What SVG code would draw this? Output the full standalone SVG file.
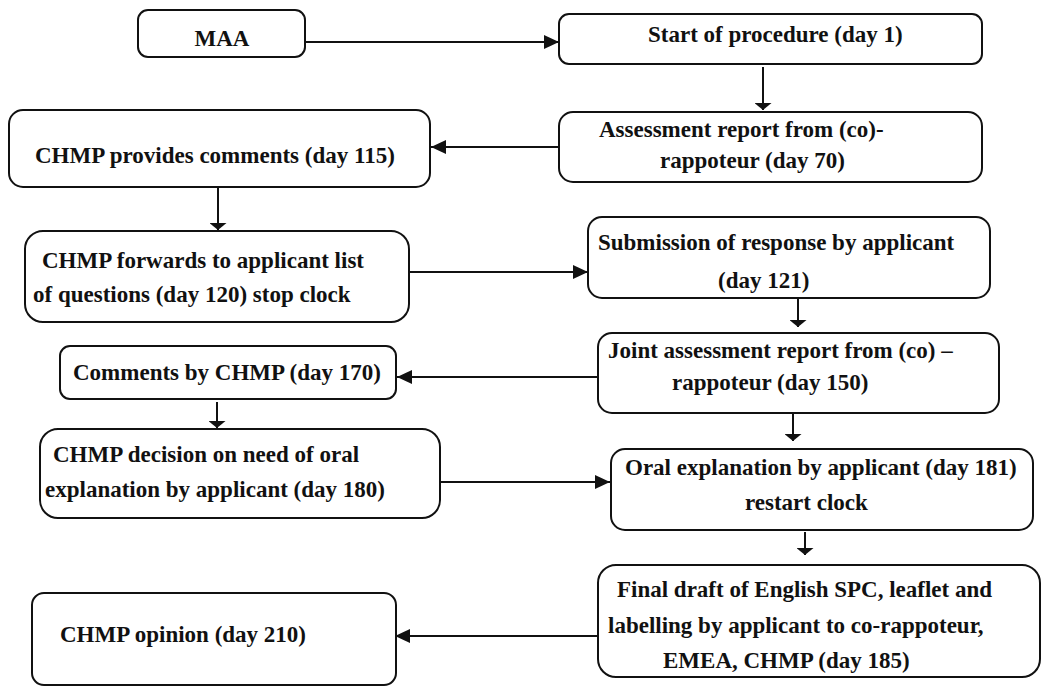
<svg xmlns="http://www.w3.org/2000/svg" width="1041" height="686" viewBox="0 0 1041 686">
<style>
.box{fill:#fff;stroke:#111;stroke-width:2}
.t{font-family:"Liberation Serif","Times New Roman",serif;font-weight:bold;font-size:23px;fill:#111}
.c{fill:none;stroke:#111;stroke-width:2}
</style>
<defs>
<marker id="ah" markerUnits="userSpaceOnUse" markerWidth="16" markerHeight="14" refX="15" refY="7" orient="auto">
<path d="M0,0 L15,7 L0,14 Z" fill="#111"/>
</marker>
<marker id="av" markerUnits="userSpaceOnUse" markerWidth="8" markerHeight="17" refX="7" refY="8.5" orient="auto">
<path d="M0,0 L7,8.5 L0,17 Z" fill="#111"/>
</marker>
</defs>
<rect width="1041" height="686" fill="#fff"/>
<g id="connectors">
<line class="c" x1="305" y1="42" x2="559" y2="42" marker-end="url(#ah)"/>
<line class="c" x1="763" y1="67" x2="763" y2="110" marker-end="url(#av)"/>
<line class="c" x1="559" y1="147" x2="431" y2="147" marker-end="url(#ah)"/>
<line class="c" x1="218" y1="188" x2="218" y2="230" marker-end="url(#av)"/>
<line class="c" x1="409" y1="272" x2="588" y2="272" marker-end="url(#ah)"/>
<line class="c" x1="798" y1="299" x2="798" y2="327" marker-end="url(#av)"/>
<line class="c" x1="598" y1="377" x2="397" y2="377" marker-end="url(#ah)"/>
<line class="c" x1="217" y1="402" x2="217" y2="428" marker-end="url(#av)"/>
<line class="c" x1="793" y1="414" x2="793" y2="441" marker-end="url(#av)"/>
<line class="c" x1="440" y1="482" x2="610" y2="482" marker-end="url(#ah)"/>
<line class="c" x1="805" y1="532" x2="805" y2="555" marker-end="url(#av)"/>
<line class="c" x1="598" y1="636" x2="395" y2="636" marker-end="url(#ah)"/>
</g>
<g id="maa">
<rect class="box" x="138" y="10" width="167" height="47" rx="10"/>
<text class="t" x="222" y="46" text-anchor="middle">MAA</text>
</g>
<g id="start">
<rect class="box" x="559" y="14" width="423" height="50" rx="10"/>
<text class="t" x="648" y="42">Start of procedure (day 1)</text>
</g>
<g id="assessment">
<rect class="box" x="559" y="112" width="423" height="70" rx="14"/>
<text class="t" x="599" y="137">Assessment report from (co)-</text>
<text class="t" x="660" y="168">rappoteur (day 70)</text>
</g>
<g id="chmp-comments">
<rect class="box" x="9" y="110" width="421" height="77" rx="14"/>
<text class="t" x="35" y="163">CHMP provides comments (day 115)</text>
</g>
<g id="chmp-forwards">
<rect class="box" x="25" y="231" width="384" height="91" rx="18"/>
<text class="t" x="42" y="268">CHMP forwards to applicant list</text>
<text class="t" x="33" y="302">of questions (day 120) stop clock</text>
</g>
<g id="submission">
<rect class="box" x="588" y="217" width="402" height="81" rx="14"/>
<text class="t" x="598" y="250">Submission of response by applicant</text>
<text class="t" x="718" y="288">(day 121)</text>
</g>
<g id="joint">
<rect class="box" x="598" y="333" width="401" height="80" rx="14"/>
<text class="t" x="608" y="358">Joint assessment report from (co) –</text>
<text class="t" x="672" y="390">rappoteur (day 150)</text>
</g>
<g id="comments-170">
<rect class="box" x="60" y="346" width="336" height="53" rx="10"/>
<text class="t" x="73" y="380">Comments by CHMP (day 170)</text>
</g>
<g id="decision">
<rect class="box" x="40" y="429" width="400" height="89" rx="18"/>
<text class="t" x="53" y="462">CHMP decision on need of oral</text>
<text class="t" x="45" y="497">explanation by applicant (day 180)</text>
</g>
<g id="oral">
<rect class="box" x="611" y="449" width="422" height="81" rx="14"/>
<text class="t" x="625" y="475">Oral explanation by applicant (day 181)</text>
<text class="t" x="745" y="510">restart clock</text>
</g>
<g id="final">
<rect class="box" x="598" y="565" width="442" height="112" rx="18"/>
<text class="t" x="617" y="597">Final draft of English SPC, leaflet and</text>
<text class="t" x="608" y="633">labelling by applicant to co-rappoteur,</text>
<text class="t" x="663" y="668">EMEA, CHMP (day 185)</text>
</g>
<g id="opinion">
<rect class="box" x="32" y="593" width="364" height="92" rx="12"/>
<text class="t" x="60" y="642">CHMP opinion (day 210)</text>
</g>
</svg>
